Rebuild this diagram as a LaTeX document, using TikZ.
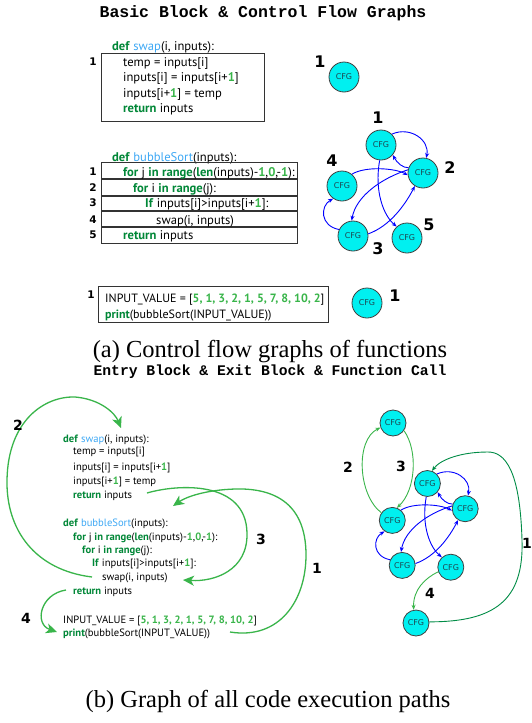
\documentclass[tikz,border=0pt]{standalone}
\usepackage{fontspec}
\setmainfont{Liberation Serif}
\newfontfamily\codefont{PT Sans}
\newfontfamily\ttlfont{Liberation Mono}
\newfontfamily\lblfont{DejaVu Sans}
\usetikzlibrary{arrows.meta}

\definecolor{kwgreen}{RGB}{0,135,55}
\definecolor{numgreen}{RGB}{57,181,74}
\definecolor{fnblue}{RGB}{63,169,245}
\definecolor{arrgreen}{RGB}{57,181,74}
\definecolor{darkgreen}{RGB}{0,140,70}
\definecolor{cfgtext}{RGB}{30,70,80}
\definecolor{cfgfill}{RGB}{0,240,240}

\newcommand{\cdkw}[1]{\textcolor{kwgreen}{\textbf{#1}}}
\newcommand{\cdfn}[1]{\textcolor{fnblue}{#1}}
\newcommand{\cdnum}[1]{\textcolor{numgreen}{\textbf{#1}}}

\tikzset{
  codeA/.style={anchor=base west, inner sep=0pt, font=\codefont\fontsize{12.6}{14}\selectfont},
  codeM/.style={anchor=base west, inner sep=0pt, font=\codefont\fontsize{12}{14}\selectfont},
  codeB/.style={anchor=base west, inner sep=0pt, font=\codefont\fontsize{10.6}{13}\selectfont},
  lbl/.style={inner sep=0pt, font=\lblfont\bfseries\fontsize{16}{16}\selectfont},
  lblsm/.style={inner sep=0pt, font=\lblfont\bfseries\fontsize{10.5}{10.5}\selectfont},
  lblmd/.style={inner sep=0pt, font=\lblfont\bfseries\fontsize{14}{14}\selectfont},
  cfg/.style={circle, draw=black!75, fill=cfgfill, line width=0.8pt, minimum size=30pt,
    inner sep=0pt, font=\lblfont\fontsize{8}{8}\selectfont, text=cfgtext},
  codebox/.style={draw=black!80, line width=0.8pt},
  blueedge/.style={draw=blue, line width=0.9pt, -{Stealth[length=5pt,width=4pt]}},
  greenbig/.style={draw=arrgreen, line width=1.3pt, -{Stealth[length=11pt,width=10pt,inset=3pt]}},
  greensmall/.style={draw=arrgreen, line width=0.9pt, -{Stealth[length=5pt,width=4pt]}},
  greendark/.style={draw=darkgreen, line width=0.9pt, -{Stealth[length=5pt,width=4pt]}},
  ttl/.style={inner sep=0pt, anchor=base, font=\ttlfont\bfseries\fontsize{16.5}{17}\selectfont},
  ttlb/.style={inner sep=0pt, anchor=base, font=\ttlfont\bfseries\fontsize{14.7}{15}\selectfont},
  capt/.style={inner sep=0pt, anchor=base, font=\fontsize{24.5}{26}\selectfont},
}

\newcommand{\cfggraph}[2]{%
  \node[cfg, minimum size=#2] (#1a) at (381,145) {CFG};
  \node[cfg, minimum size=#2] (#1b) at (423,173) {CFG};
  \node[cfg, minimum size=#2] (#1d) at (342,186) {CFG};
  \node[cfg, minimum size=#2] (#1c) at (353,236) {CFG};
  \node[cfg, minimum size=#2] (#1e) at (407,238) {CFG};
  \draw[blueedge] (#1a.45) .. controls (410,126) and (430,140) .. (#1b.78);
  \draw[blueedge] (#1b.160) .. controls (403,168) and (397,163) .. (#1a.-40);
  \draw[blueedge] (#1d.50) .. controls (365,166) and (395,168) .. (#1b.188);
  \draw[blueedge] (#1b.168) .. controls (382,178) and (356,196) .. (#1c.95);
  \draw[blueedge] (#1c.8) .. controls (390,226) and (405,205) .. (#1b.238);
  \draw[blueedge] (#1c.155) .. controls (320,226) and (320,206) .. (#1d.235);
  \draw[blueedge] (#1a.265) .. controls (374,192) and (384,216) .. (#1e.132);
}

\begin{document}
\begin{tikzpicture}[x=1pt,y=-1pt]
\useasboundingbox[fill=white] (0,0) rectangle (531,723);

% ---------- titles and captions
\node[ttl] (title1) at (263,17) {Basic Block \& Control Flow Graphs};
\node[capt] (capa) at (270,357) {(a) Control flow graphs of functions};
\node[ttlb] (title2) at (270,375) {Entry Block \& Exit Block \& Function Call};
\node[capt] (capb) at (268,707) {(b) Graph of all code execution paths};

% ---------- (a) swap
\draw[codebox] (101,53) rectangle (264,121);
\node[codeA] (s0) at (112,50) {\cdkw{def} \cdfn{swap}(i, inputs):};
\node[codeA] (s1) at (123,66) {temp = inputs[i]};
\node[codeA] (s2) at (123,81) {inputs[i] = inputs[i+\cdnum{1}]};
\node[codeA] (s3) at (123,97) {inputs[i+\cdnum{1}] = temp};
\node[codeA] (s4) at (123,112) {\cdkw{return} inputs};
\node[lblsm] (sl) at (93,62) {1};

% ---------- (a) bubbleSort
\node[codeA] (b0) at (112,161) {\cdkw{def} \cdfn{bubbleSort}(inputs):};
\draw[codebox] (101,162) rectangle (297,178.5);
\draw[codebox] (101,179.5) rectangle (297,195);
\draw[codebox] (101,196) rectangle (297,210.5);
\draw[codebox] (101,211.5) rectangle (297,226.5);
\draw[codebox] (101,227.5) rectangle (297,243);
\node[codeA] (b1) at (123,176) {\cdkw{for} j \cdkw{in} \cdkw{range}(\cdkw{len}(inputs)-\cdnum{1},\cdnum{0},-\cdnum{1}):};
\node[codeA] (b2) at (133,192) {\cdkw{for} i \cdkw{in} \cdkw{range}(j):};
\node[codeA] (b3) at (145,207) {\cdkw{If} inputs[i]>inputs[i+\cdnum{1}]:};
\node[codeA] (b4) at (156,224) {swap(i, inputs)};
\node[codeA] (b5) at (123,239) {\cdkw{return} inputs};
\node[lblsm] (bl1) at (93,172) {1};
\node[lblsm] (bl2) at (93,188) {2};
\node[lblsm] (bl3) at (93,203) {3};
\node[lblsm] (bl4) at (93,220) {4};
\node[lblsm] (bl5) at (93,235) {5};

% ---------- (a) main
\draw[codebox] (98,286) rectangle (328,322);
\node[codeM] (m1) at (105,302) {INPUT\_VALUE = [\cdnum{5, 1, 3, 2, 1, 5, 7, 8, 10, 2}]};
\node[codeM] (m2) at (105,318) {\cdkw{print}(bubbleSort(INPUT\_VALUE))};
\node[lblsm] (ml) at (91,295) {1};

% ---------- (a) graphs
\node[cfg] (swapcfg) at (344,77) {CFG};
\node[lbl] (swapl) at (320,62) {1};
\node[cfg] (maincfg) at (367,303) {CFG};
\node[lbl] (mainl) at (395,296) {1};

\cfggraph{t}{30pt}
\node[lbl] (tl1) at (378,118) {1};
\node[lbl] (tl2) at (450,168) {2};
\node[lbl] (tl4) at (332,161) {4};
\node[lbl] (tl3) at (378,249) {3};
\node[lbl] (tl5) at (429,225) {5};

% ---------- (b) code
\node[codeB] (c0) at (63,442) {\cdkw{def} \cdfn{swap}(i, inputs):};
\node[codeB] (c1) at (73,454) {temp = inputs[i]};
\node[codeB] (c2) at (73,470) {inputs[i] = inputs[i+\cdnum{1}]};
\node[codeB] (c3) at (73,484) {inputs[i+\cdnum{1}] = temp};
\node[codeB] (c4) at (73,498) {\cdkw{return} inputs};
\node[codeB] (c5) at (63,526) {\cdkw{def} \cdfn{bubbleSort}(inputs):};
\node[codeB] (c6) at (73,540) {\cdkw{for} j \cdkw{in} \cdkw{range}(\cdkw{len}(inputs)-\cdnum{1},\cdnum{0},-\cdnum{1}):};
\node[codeB] (c7) at (82,553) {\cdkw{for} i \cdkw{in} \cdkw{range}(j):};
\node[codeB] (c8) at (92,566) {\cdkw{If} inputs[i]>inputs[i+\cdnum{1}]:};
\node[codeB] (c9) at (102,580) {swap(i, inputs)};
\node[codeB] (c10) at (73,594) {\cdkw{return} inputs};
\node[codeB] (c11) at (63,623) {INPUT\_VALUE = [\cdnum{5, 1, 3, 2, 1, 5, 7, 8, 10, 2}]};
\node[codeB] (c12) at (63,636) {\cdkw{print}(bubbleSort(INPUT\_VALUE))};

\coordinate (a2s) at (92,577);
\coordinate (a2e) at (121,428);
\draw[greenbig] (a2s) .. controls (35,570) and (6,530) .. (7,480)
   .. controls (8,420) and (45,396) .. (75,397) .. controls (100,399) and (115,413) .. (a2e);
\coordinate (a3s) at (147,493);
\coordinate (a3e) at (183,580);
\draw[greenbig] (a3s) .. controls (178,484) and (246,480) .. (247,533)
   .. controls (248,570) and (215,582) .. (a3e);
\coordinate (a1s) at (230,632);
\coordinate (a1e) at (173,506);
\draw[greenbig] (a1s) .. controls (280,640) and (306,600) .. (306,555)
   .. controls (306,500) and (270,488) .. (235,489) .. controls (205,490) and (186,497) .. (a1e);
\coordinate (a4s) at (66,590);
\coordinate (a4e) at (57,632);
\draw[greenbig] (a4s) .. controls (40,594) and (34,624) .. (a4e);
\node[lblmd] (gl2) at (18,425) {2};
\node[lblmd] (gl3) at (261,539) {3};
\node[lblmd] (gl1) at (317,568) {1};
\node[lblmd] (gl4) at (26,618) {4};

% ---------- (b) graph
\begin{scope}[shift={(84.5,353)}, scale=0.9]
\cfggraph{b}{26pt}
\end{scope}
\node[cfg, minimum size=26pt] (bA) at (393,423) {CFG};
\node[cfg, minimum size=26pt] (bC) at (416,623) {CFG};
\draw[greensmall] (bd.145) .. controls (358,495) and (355,440) .. (bA.200);
\draw[greensmall] (bA.-35) .. controls (418,450) and (416,490) .. (bd.70);
\draw[greendark] (bC.5) .. controls (495,622) and (524,600) .. (522,540)
   .. controls (520,470) and (505,452) .. (488,452) .. controls (460,452) and (440,460) .. (ba.70);
\draw[greensmall] (be.200) .. controls (425,578) and (413,590) .. (bC.100);
\node[lblmd] (rl2) at (348,467) {2};
\node[lblmd] (rl3) at (401,466) {3};
\node[lblmd] (rl1) at (527,543) {1};
\node[lblmd] (rl4) at (430,593) {4};
\end{tikzpicture}
\end{document}
